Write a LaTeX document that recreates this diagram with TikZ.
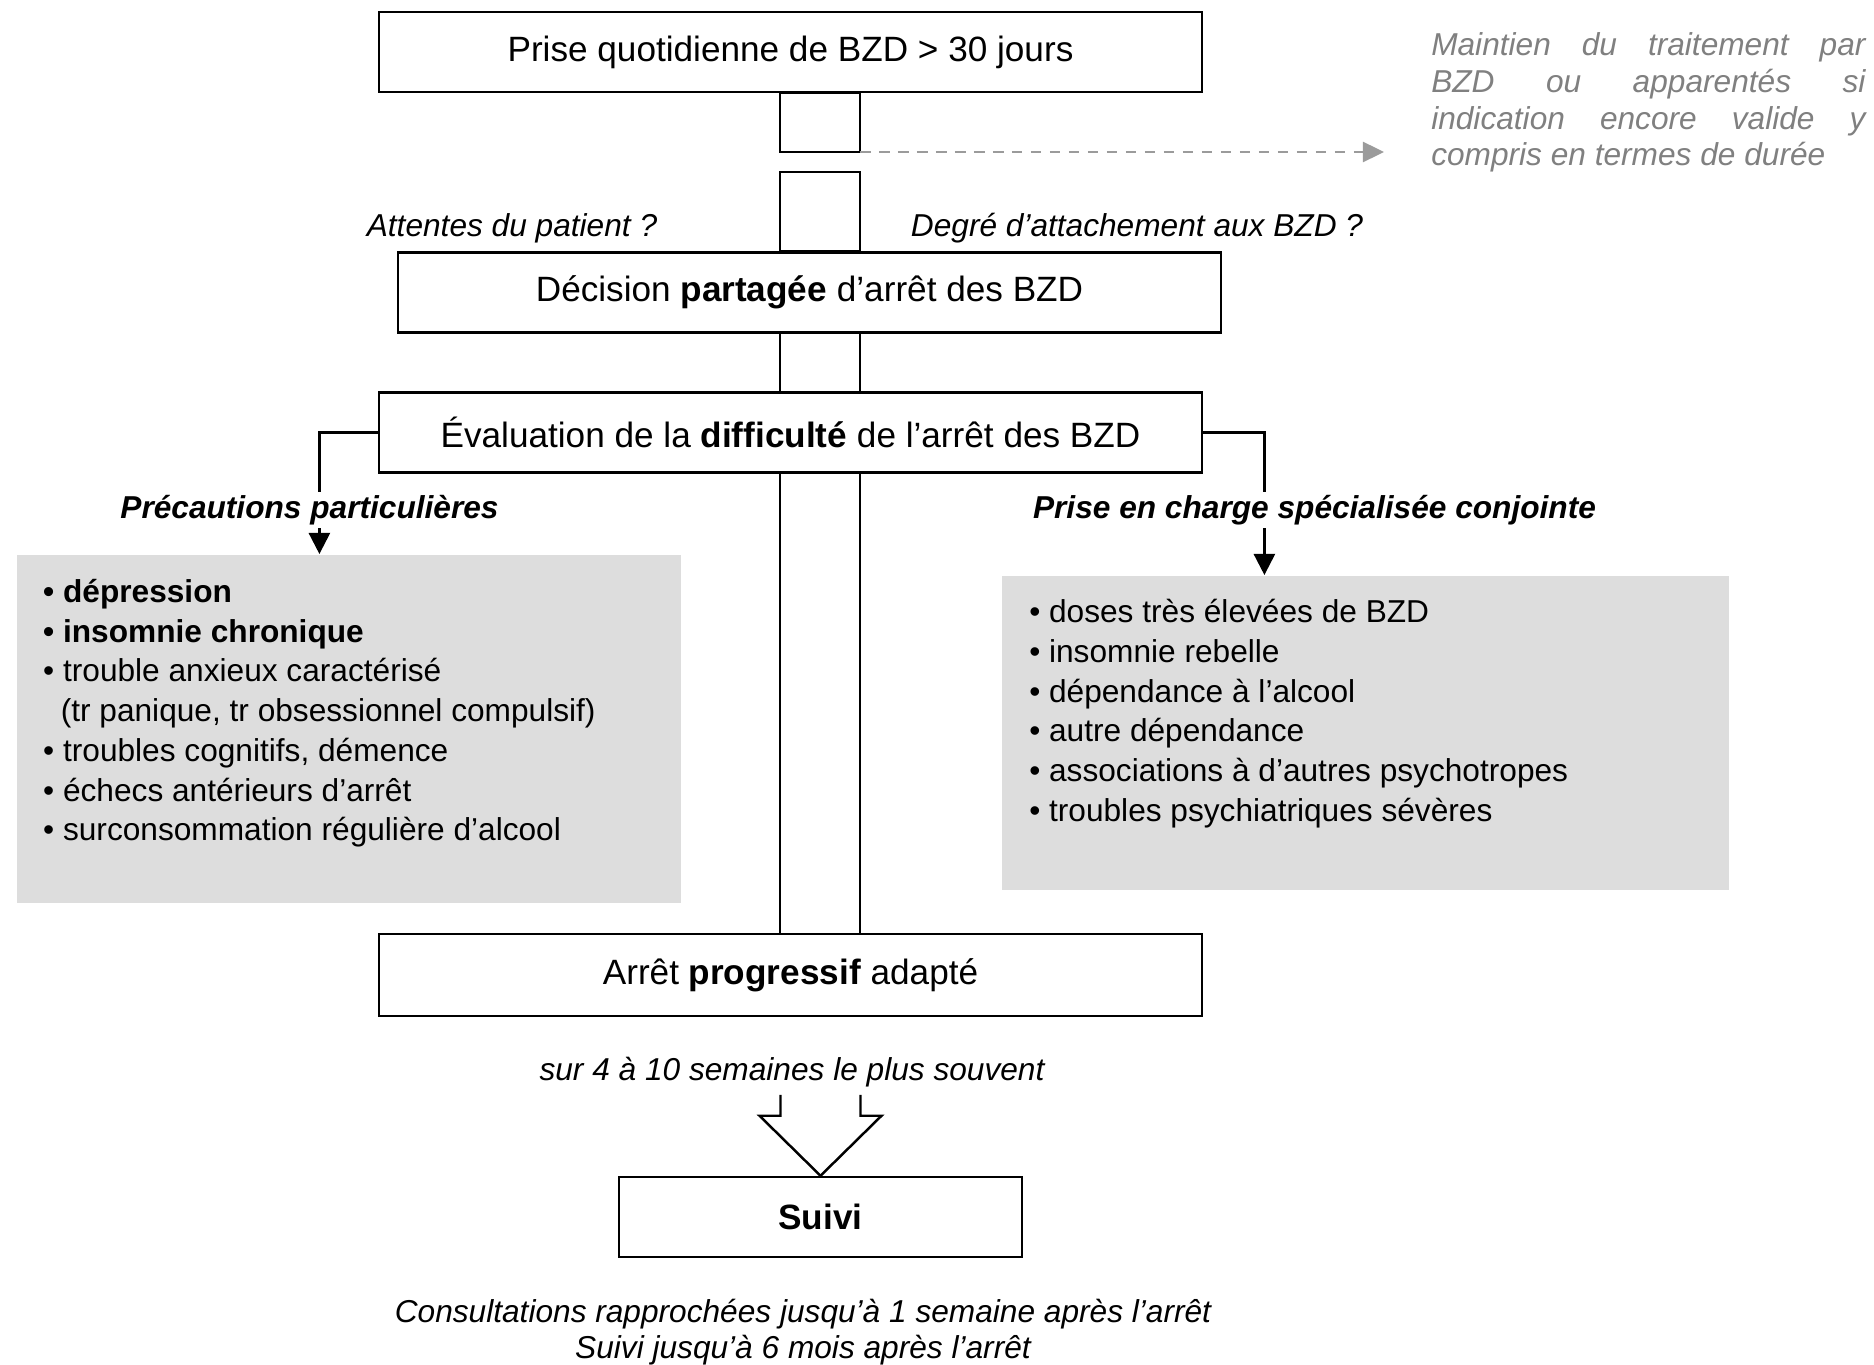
\documentclass[tikz,border=0pt]{standalone}
\usepackage{fontspec}
\setmainfont{Liberation Sans}
\usetikzlibrary{arrows.meta}
\definecolor{fondgris}{RGB}{221,221,221}
\definecolor{textegris}{RGB}{128,128,128}
\definecolor{traitgris}{RGB}{155,155,155}

\begin{document}
\begin{tikzpicture}[x=0.01cm,y=-0.01cm,line width=0.7pt,
		etape/.style={draw,minimum height=0.8cm,inner sep=0pt,font=\fontsize{10}{12}\selectfont},
		cadre/.style={fill=fondgris,draw=none,inner sep=0pt,anchor=north west},
		liste/.style={anchor=north west,align=left,inner sep=0pt,font=\fontsize{9}{11.3}\selectfont},
		remarque/.style={inner sep=1pt,align=center,font=\fontsize{9}{10.2}\selectfont\itshape},
		titre/.style={fill=white,inner sep=1pt,font=\fontsize{9}{11}\selectfont\bfseries\itshape},
		fleche/.style={-{Triangle[length=6pt,width=6pt]}}]
	\useasboundingbox (0,0) rectangle (1874,1364);

			\node[etape, minimum width=8.23cm] (PQ) at (790.5,52) {Prise quotidienne de BZD > 30 jours};
			\node[etape, minimum width=8.23cm] (DP) at (809.5,292.5) {Décision \textbf{partagée} d’arrêt des BZD};
			\node[etape, minimum width=8.23cm] (ED) at (790.5,432.5) {Évaluation de la \textbf{difficulté} de l’arrêt des BZD};
			\node[etape, minimum width=8.23cm, minimum height=0.82cm] (AP) at (790.5,975) {Arrêt \textbf{progressif} adapté};
			\node[etape, minimum width=4.03cm] (SV) at (820.5,1217) {\textbf{Suivi}};

			\node[cadre, minimum width=6.63cm, minimum height=3.48cm] (PP) at (16,554) {};
			\node[cadre, minimum width=7.26cm, minimum height=3.14cm] (PS) at (1001,575) {};

			\node[liste] (LP) at (42,578) {\textbf{• dépression}\\ \textbf{• insomnie chronique}\\ • trouble anxieux caractérisé\\ \hspace*{5pt}(tr panique, tr obsessionnel compulsif)\\ • troubles cognitifs, démence\\ • échecs antérieurs d’arrêt\\ • surconsommation régulière d’alcool};
			\node[liste] (LS) at (1028,598) {• doses très élevées de BZD\\ • insomnie rebelle\\ • dépendance à l’alcool\\ • autre dépendance\\ • associations à d’autres psychotropes\\ • troubles psychiatriques sévères};

			\node[anchor=north west, inner sep=0pt, align=left, text=textegris, font=\fontsize{9}{10.5}\selectfont\itshape] (MT) at (1430,31) {\makebox[4.34cm][s]{Maintien du traitement par}\\ \makebox[4.34cm][s]{BZD ou apparentés si}\\ \makebox[4.34cm][s]{indication encore valide y}\\ compris en termes de durée};

			% tuyaux entre les etapes
			\coordinate (CL) at (780,0);
			\coordinate (CR) at (860,0);
			\coordinate (CA) at (0,152);
			\coordinate (CB) at (0,172);
			\coordinate (MX) at (1384,152);
			\draw (PQ.south -| CL) rectangle (CR |- CA);
			\draw (CL |- CB) rectangle (DP.north -| CR);
			\draw (DP.south -| CL) -- (ED.north -| CL);
			\draw (DP.south -| CR) -- (ED.north -| CR);
			\draw (ED.south -| CL) -- (AP.north -| CL);
			\draw (ED.south -| CR) -- (AP.north -| CR);
			\draw[traitgris, dash pattern=on 3pt off 2.4pt, -{Triangle[length=6pt,width=5.7pt]}] (CR |- CA) -- (MX);

			\draw[fleche] (ED.west) -| ([xshift=-0.295cm]PP.north);
			\draw[fleche] (ED.east) -| ([xshift=-1.01cm]PS.north);

			% grosse fleche creuse
			\draw (SV.north) -- ++(-61,-60) -- ++(21,0) -- ++(0,-21);
			\draw (SV.north) -- ++(61,-60) -- ++(-21,0) -- ++(0,-21);

			\node[titre] (TP) at (309.5,510) {Précautions particulières};
			\node[titre] (TS) at (1314.5,510) {Prise en charge spécialisée conjointe};
			\node[remarque] (AT) at (512,228) {Attentes du patient ?};
			\node[remarque] (DA) at (1137,228) {Degré d’attachement aux BZD ?};
			\node[remarque] (DU) at (792,1072) {sur 4 à 10 semaines le plus souvent};
			\node[remarque] (CO) at (803,1332) {Consultations rapprochées jusqu’à 1 semaine après l’arrêt\\ Suivi jusqu’à 6 mois après l’arrêt};
\end{tikzpicture}
\end{document}
